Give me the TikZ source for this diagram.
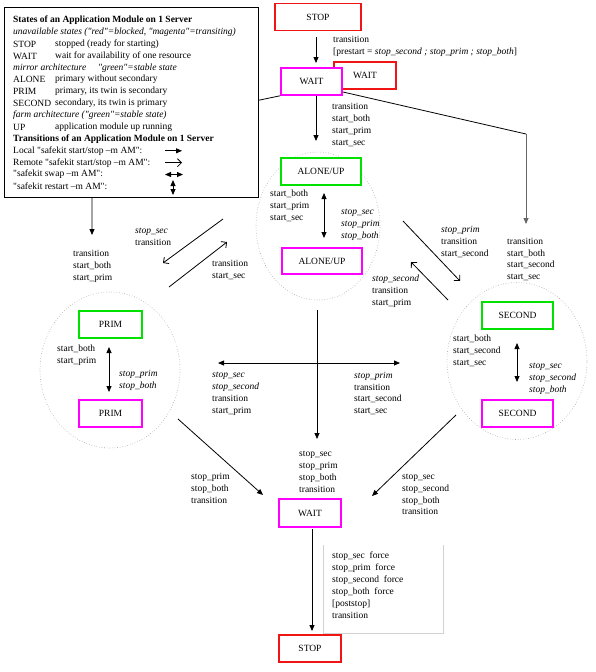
\documentclass[tikz,border=0pt]{standalone}
\usepackage{fontspec}
\setmainfont{Liberation Serif}[Ligatures=TeXOff]
\usetikzlibrary{arrows.meta,shapes.geometric}
\definecolor{boxred}{RGB}{240,20,20}
\definecolor{boxmag}{RGB}{255,0,255}
\definecolor{boxgrn}{RGB}{0,225,0}
\begin{document}
\begin{tikzpicture}[x=1pt,y=-1pt,
 lbl/.style={font=\fontsize{9.5}{11.9}\selectfont, align=left, inner sep=0pt, anchor=west},
 leg/.style={font=\fontsize{9.5}{11.7}\selectfont, inner sep=0pt, anchor=west},
 sbox/.style={draw, line width=1.5pt, fill=white, inner sep=0pt, font=\fontsize{9.5}{11}\selectfont},
 redb/.style={sbox, draw=boxred},
 magb/.style={sbox, draw=boxmag},
 grnb/.style={sbox, draw=boxgrn},
 zone/.style={ellipse, draw=gray!70, dotted, line width=0.6pt, inner sep=0pt},
 ln/.style={line width=0.8pt},
 fa/.style={ln, -{Triangle[length=6pt,width=5pt]}},
 da/.style={ln, {Triangle[length=6pt,width=5pt]}-{Triangle[length=6pt,width=5pt]}},
 oa/.style={ln, -{Straight Barb[length=4pt,width=8pt]}},
]
\useasboundingbox (0,0) rectangle (596,672);

% zones
\node[zone, minimum width=124, minimum height=148] (aloneZ) at (318,226) {};
\node[zone, minimum width=140, minimum height=156] (primZ) at (110,370) {};
\node[zone, minimum width=140, minimum height=157] (secZ) at (517,361) {};

% state boxes
\node[redb, minimum width=86, minimum height=27] (stopT) at (318,17) {STOP};
\node[redb, minimum width=62, minimum height=27] (waitR) at (365,75.5) {WAIT};
\node[magb, minimum width=61, minimum height=27] (waitM) at (311.5,81.5) {WAIT};
\node[grnb, minimum width=80, minimum height=27] (aloneG) at (321,171.5) {ALONE/UP};
\node[magb, minimum width=80, minimum height=26] (aloneM) at (322,261) {ALONE/UP};
\node[grnb, minimum width=63, minimum height=27] (primG) at (110.5,324.5) {PRIM};
\node[magb, minimum width=63, minimum height=27] (primM) at (110.5,413.5) {PRIM};
\node[grnb, minimum width=71, minimum height=27] (secG) at (517.5,315.5) {SECOND};
\node[magb, minimum width=71, minimum height=27] (secM) at (517.5,413.5) {SECOND};
\node[magb, minimum width=62, minimum height=28] (waitB) at (310,513) {WAIT};
\node[redb, minimum width=62, minimum height=27] (stopB) at (310,648.5) {STOP};

% connector end points
\coordinate (a1s) at (316,37);   \coordinate (a1e) at (316,63);
\coordinate (a2s) at (316,96);   \coordinate (a2e) at (316,141);
\coordinate (wl) at (92,135);    \coordinate (wle) at (92,235);
\coordinate (wrs) at (343,92);   \coordinate (wr) at (526,134);  \coordinate (wre) at (526,224);
\coordinate (ai1) at (324,193);  \coordinate (ai2) at (324,238);
\coordinate (pi1) at (109,347);  \coordinate (pi2) at (109,392);
\coordinate (si1) at (517,343);  \coordinate (si2) at (517,382);
\coordinate (ap1) at (223,219);  \coordinate (ap2) at (163,263);
\coordinate (pa1) at (169,287);  \coordinate (pa2) at (227,242);
\coordinate (as1) at (403,221);  \coordinate (as2) at (460,281);
\coordinate (sa1) at (448,300);  \coordinate (sa2) at (411,262);
\coordinate (cT) at (317,310);   \coordinate (cB) at (317,439);
\coordinate (cL) at (218,363);   \coordinate (cR) at (400,363);
\coordinate (pw1) at (178,419);  \coordinate (pw2) at (263,495);
\coordinate (sw1) at (456,415);  \coordinate (sw2) at (372,496);
\coordinate (ws1) at (312,529);  \coordinate (ws2) at (312,631);

% connectors
\draw[fa] (a1s) -- (a1e);
\draw[fa] (a2s) -- (a2e);
\draw[fa] (waitM.south west) -- (wl) -- (wle);
\draw[ln] (wrs) -- (wr);
\draw[fa, draw=gray!80!black, fill=gray!80!black] (wr) -- (wre);
\draw[da] (ai1) -- (ai2);
\draw[da] (pi1) -- (pi2);
\draw[da] (si1) -- (si2);
\draw[oa] (ap1) -- (ap2);
\draw[oa] (pa1) -- (pa2);
\draw[oa] (as1) -- (as2);
\draw[oa] (sa1) -- (sa2);
\draw[fa] (cT) -- (cB);
\draw[da] (cL) -- (cR);
\draw[fa] (pw1) -- (pw2);
\draw[fa] (sw1) -- (sw2);
\draw[fa] (ws1) -- (ws2);
\draw[gray!35, line width=0.6pt] (323,545) -- (323,633) -- (443,633) -- (443,545);

% labels
\node[lbl] (lb1) at (333,46) {transition\\{[}prestart = \textit{stop\_second ; stop\_prim ; stop\_both}{]}};
\node[lbl] (lb2) at (332,125) {transition\\start\_both\\start\_prim\\start\_sec};
\node[lbl] (lb3) at (507,259.5) {transition\\start\_both\\start\_second\\start\_sec};
\node[lbl] (lb4) at (270,205.5) {start\_both\\start\_prim\\start\_sec};
\node[lbl] (lb5) at (341,225) {\textit{stop\_sec}\\\textit{stop\_prim}\\\textit{stop\_both}};
\node[lbl] (lb6) at (57,355) {start\_both\\start\_prim};
\node[lbl] (lb7) at (119,380) {\textit{stop\_prim}\\\textit{stop\_both}};
\node[lbl] (lb8) at (453,351) {start\_both\\start\_second\\start\_sec};
\node[lbl] (lb9) at (529,379) {\textit{stop\_sec}\\\textit{stop\_second}\\\textit{stop\_both}};
\node[lbl] (lb10) at (73,266.5) {transition\\start\_both\\start\_prim};
\node[lbl] (lb11) at (135,237) {\textit{stop\_sec}\\transition};
\node[lbl] (lb12) at (212,270) {transition\\start\_sec};
\node[lbl] (lb13) at (441,242) {\textit{stop\_prim}\\transition\\start\_second};
\node[lbl] (lb14) at (372,291.5) {\textit{stop\_second}\\transition\\start\_prim};
\node[lbl] (lb15) at (212,393.5) {\textit{stop\_sec}\\\textit{stop\_second}\\transition\\start\_prim};
\node[lbl] (lb16) at (354,393.5) {\textit{stop\_prim}\\transition\\start\_second\\start\_sec};
\node[lbl] (lb17) at (299,472) {stop\_sec\\stop\_prim\\stop\_both\\transition};
\node[lbl] (lb18) at (191,488.5) {stop\_prim\\stop\_both\\transition};
\node[lbl] (lb19) at (402,494.5) {stop\_sec\\stop\_second\\stop\_both\\transition};
\node[lbl] (lb20) at (332,585) {stop\_sec\ \ force\\stop\_prim\ \ force\\stop\_second\ \ force\\stop\_both\ \ force\\{[}poststop{]}\\transition};

% legend
\node[draw, fill=white, line width=0.8pt, minimum width=254, minimum height=190, inner sep=0pt] (legend) at (131,102) {};
\node[leg] (g0) at (13,20.5) {\textbf{States of an Application Module on 1 Server}};
\node[leg] (g1) at (13,32.3) {\textit{unavailable states ("red"=blocked, "magenta"=transiting)}};
\node[leg] (g2) at (13,44.2) {STOP};   \node[leg] (g2b) at (55,44.2) {stopped (ready for starting)};
\node[leg] (g3) at (13,56.0) {WAIT};   \node[leg] (g3b) at (55,56.0) {wait for availability of one resource};
\node[leg] (g4) at (13,67.9) {\textit{mirror architecture \quad "green"=stable state}};
\node[leg] (g5) at (13,79.7) {ALONE};  \node[leg] (g5b) at (55,79.7) {primary without secondary};
\node[leg] (g6) at (13,91.6) {PRIM};   \node[leg] (g6b) at (55,91.6) {primary, its twin is secondary};
\node[leg] (g7) at (13,103.4) {SECOND}; \node[leg] (g7b) at (55,103.4) {secondary, its twin is primary};
\node[leg] (g8) at (13,115.3) {\textit{farm architecture ("green"=stable state)}};
\node[leg] (g9) at (13,127.1) {UP};     \node[leg] (g9b) at (55,127.1) {application module up running};
\node[leg] (g10) at (13,139.0) {\textbf{Transitions of an Application Module on 1 Server}};
\node[leg] (g11) at (13,150.8) {Local "safekit start/stop –m AM":};
\node[leg] (g12) at (13,162.7) {Remote "safekit start/stop –m AM":};
\node[leg] (g13) at (13,174.5) {"safekit swap –m AM":};
\node[leg] (g14) at (13,186.4) {"safekit restart –m AM":};
\coordinate (k1a) at (165,150.8); \coordinate (k1b) at (182,150.8);
\coordinate (k2a) at (165,162.7); \coordinate (k2b) at (182,162.7);
\coordinate (k3a) at (165,174.5); \coordinate (k3b) at (183,174.5);
\coordinate (k4a) at (173,180);   \coordinate (k4b) at (173,195);
\draw[fa] (k1a) -- (k1b);
\draw[oa] (k2a) -- (k2b);
\draw[da] (k3a) -- (k3b);
\draw[da] (k4a) -- (k4b);
\end{tikzpicture}
\end{document}
